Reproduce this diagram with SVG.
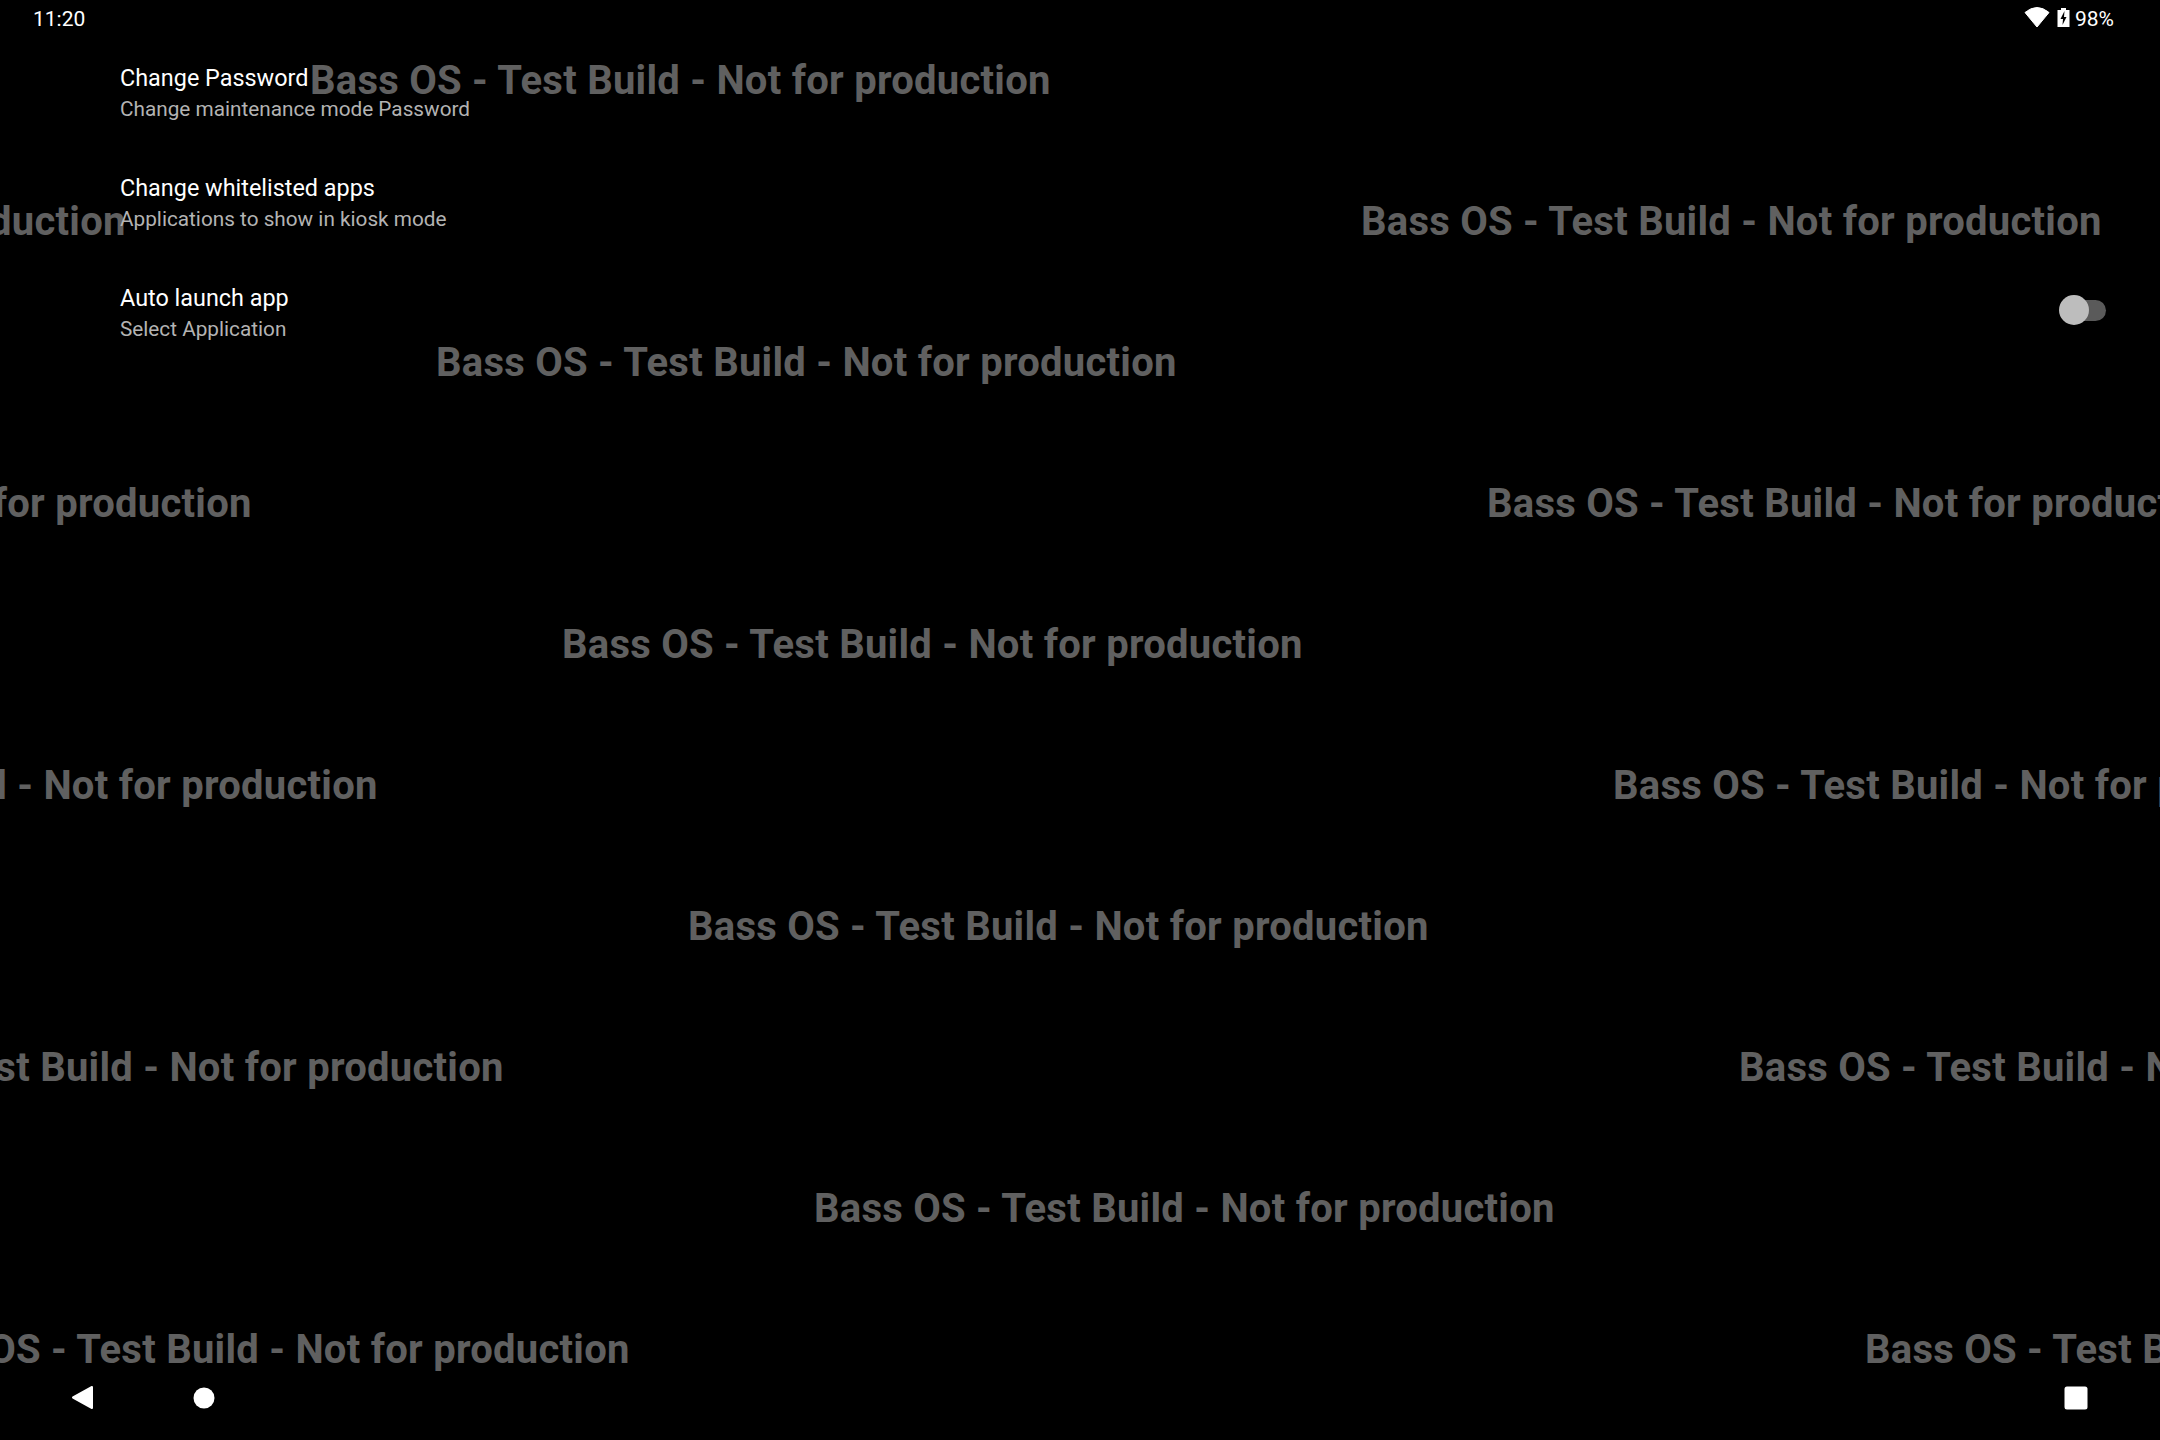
<svg xmlns="http://www.w3.org/2000/svg" width="2160" height="1440" viewBox="0 0 2160 1440">
<style>
text{font-family:Roboto,"Liberation Sans",sans-serif}
.w{font-size:40px;font-weight:700;fill:#606060;letter-spacing:.25px}
.t{font-size:23.4px;fill:#fff}
.s{font-size:20.75px;fill:#b3b3b3}
.b{font-size:21px;fill:#fff}
</style>
<rect width="2160" height="1440" fill="#000"/>
<g id="watermark">
<text class="w" x="310" y="93.500">Bass OS - Test Build - Not for production</text>
<text class="w" x="1361" y="235">Bass OS - Test Build - Not for production</text>
<text class="w" x="-615" y="235">Bass OS - Test Build - Not for production</text>
<text class="w" x="436" y="376">Bass OS - Test Build - Not for production</text>
<text class="w" x="1487" y="517">Bass OS - Test Build - Not for production</text>
<text class="w" x="-489" y="517">Bass OS - Test Build - Not for production</text>
<text class="w" x="562" y="658">Bass OS - Test Build - Not for production</text>
<text class="w" x="1613" y="799">Bass OS - Test Build - Not for production</text>
<text class="w" x="-363" y="799">Bass OS - Test Build - Not for production</text>
<text class="w" x="688" y="940">Bass OS - Test Build - Not for production</text>
<text class="w" x="1739" y="1081">Bass OS - Test Build - Not for production</text>
<text class="w" x="-237" y="1081">Bass OS - Test Build - Not for production</text>
<text class="w" x="814" y="1222">Bass OS - Test Build - Not for production</text>
<text class="w" x="1865" y="1363">Bass OS - Test Build - Not for production</text>
<text class="w" x="-111" y="1363">Bass OS - Test Build - Not for production</text>
</g>
<g id="status-bar">
<text class="b" x="33" y="26">11:20</text>
<path d="M2025 12.500Q2037 2.500 2049 12.500L2037 27Z" fill="#fff" stroke="#fff" stroke-width="1" stroke-linejoin="round"/>
<path d="M2057.500 10H2061V8H2066V10H2069.500V27H2057.500Z" fill="#fff"/>
<path d="M2064.500 11L2060.500 19H2063L2062.500 25L2066.500 17H2064Z" fill="#000"/>
<text class="b" x="2075" y="26">98%</text>
</g>
<g id="item-password">
<text class="t" x="120" y="86">Change Password</text>
<text class="s" x="120" y="116">Change maintenance mode Password</text>
</g>
<g id="item-whitelist">
<text class="t" x="120" y="196">Change whitelisted apps</text>
<text class="s" x="120" y="226">Applications to show in kiosk mode</text>
</g>
<g id="item-autolaunch">
<text class="t" x="120" y="306">Auto launch app</text>
<text class="s" x="120" y="336">Select Application</text>
<rect x="2065" y="300" width="41" height="21" rx="10.500" fill="#5a5a5a"/>
<circle cx="2074" cy="310" r="15" fill="#bdbdbd"/>
</g>
<g id="nav-bar">
<path d="M73 1397.500L92 1387V1408Z" fill="#fff" stroke="#fff" stroke-width="2" stroke-linejoin="round"/>
<circle cx="204" cy="1398" r="10.500" fill="#fff"/>
<rect x="2064.500" y="1386.500" width="23" height="23" rx="2.500" fill="#fff"/>
</g>
</svg>
